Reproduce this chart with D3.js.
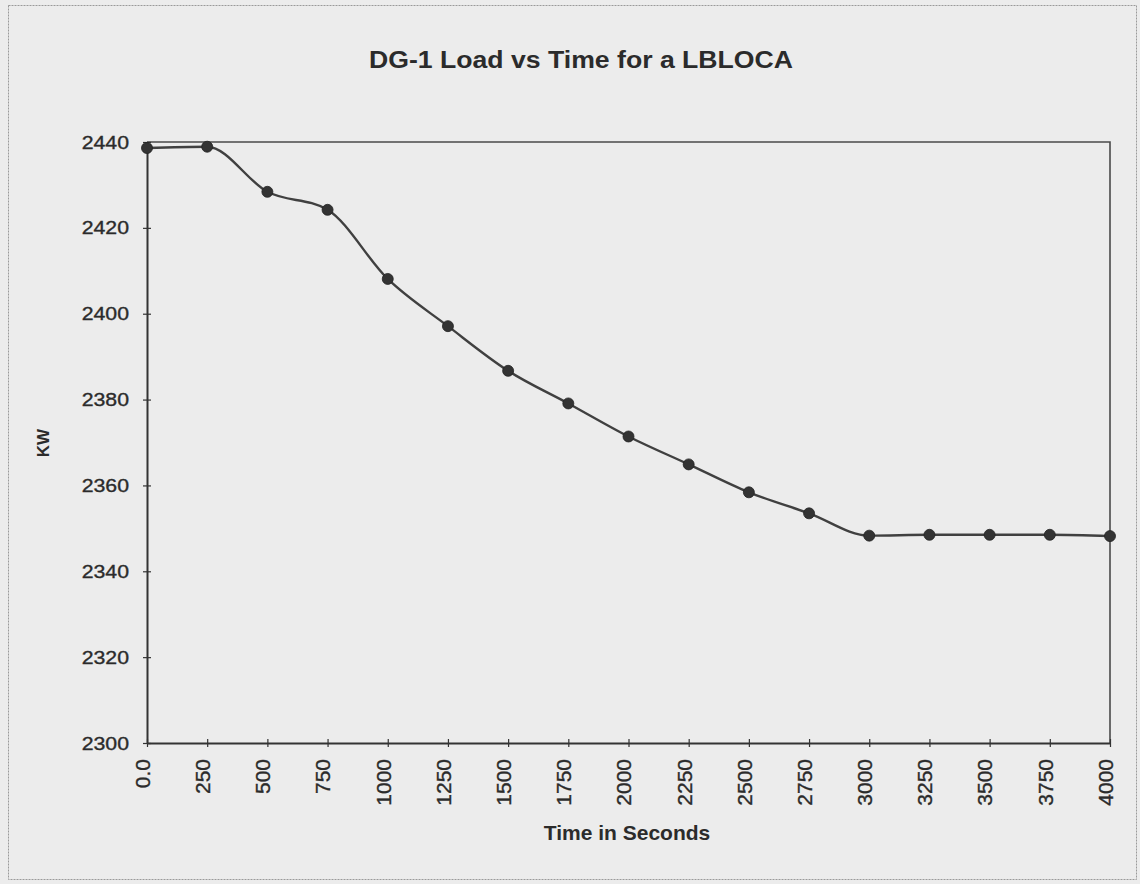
<!DOCTYPE html>
<html>
<head>
<meta charset="utf-8">
<script src="https://cdn.jsdelivr.net/npm/d3@7"></script>
<style>
  html, body { margin: 0; padding: 0; background: #ececec; }
  svg { display: block; }
  text { font-family: "Liberation Sans", Arial, Helvetica, sans-serif; fill: #2b2b2b; }
</style>
</head>
<body>
<script>
// Time (s) and diesel generator load (kW)
const times = [0, 250, 500, 750, 1000, 1250, 1500, 1750, 2000, 2250, 2500, 2750, 3000, 3250, 3500, 3750, 4000];
const loadKW = [2438.6, 2438.9, 2428.4, 2424.2, 2408.1, 2397.1, 2386.7, 2379.1, 2371.4, 2364.9, 2358.4, 2353.5, 2348.3, 2348.5, 2348.5, 2348.5, 2348.2];
const xTicks = [0, 250, 500, 750, 1000, 1250, 1500, 1750, 2000, 2250, 2500, 2750, 3000, 3250, 3500, 3750, 4000];
const xTickLabels = ["0.0", "250", "500", "750", "1000", "1250", "1500", "1750", "2000", "2250", "2500", "2750", "3000", "3250", "3500", "3750", "4000"];
const yTicks = [2300, 2320, 2340, 2360, 2380, 2400, 2420, 2440];

const titleText = "DG-1 Load vs Time for a LBLOCA";
const xTitle = "Time in Seconds";
const yTitle = "KW";

const W = 1140, H = 884;
const plot = { left: 147, right: 1110, top: 142, bottom: 743 };

const svg = d3.select("body").append("svg")
  .attr("width", W).attr("height", H);

svg.append("rect").attr("width", W).attr("height", H).attr("fill", "#ececec");

// thin dotted outer frame
svg.append("rect")
  .attr("x", 8.5).attr("y", 5.5).attr("width", 1128).attr("height", 874)
  .attr("fill", "none").attr("stroke", "#9a9a9a").attr("stroke-width", 1)
  .attr("stroke-dasharray", "2,1");

const x = d3.scaleLinear().domain([0, 4000]).range([plot.left, plot.right]);
const y = d3.scaleLinear().domain([2300, 2440]).range([plot.bottom, plot.top]);

// plot frame (top and right edges)
svg.append("path")
  .attr("d", `M${plot.left},${plot.top}H${plot.right}V${plot.bottom}`)
  .attr("fill", "none").attr("stroke", "#4a4a4a").attr("stroke-width", 1.6);

// y axis
const yAxis = d3.axisLeft(y).tickValues(yTicks).tickSizeInner(4).tickSizeOuter(0).tickPadding(14)
  .tickFormat(d3.format("d"));
const gy = svg.append("g").attr("transform", `translate(${plot.left},0)`).call(yAxis);
gy.select(".domain").attr("stroke", "#333").attr("stroke-width", 2);
gy.selectAll(".tick line").attr("stroke", "#333").attr("stroke-width", 1.2).attr("x1", 4).attr("x2", -4);
gy.selectAll(".tick text")
  .style("font-size", "19px").style("font-family", "'Liberation Sans', Arial, sans-serif")
  .attr("fill", "#2b2b2b").attr("stroke", "#2b2b2b").attr("stroke-width", 0.35)
  .each(function () {
    const len = this.getComputedTextLength();
    d3.select(this).attr("textLength", len * 1.12).attr("lengthAdjust", "spacingAndGlyphs");
  });

// x axis
const xAxis = d3.axisBottom(x).tickValues(xTicks).tickSizeInner(4).tickSizeOuter(0)
  .tickFormat((d, i) => xTickLabels[i]);
const gx = svg.append("g").attr("transform", `translate(0,${plot.bottom})`).call(xAxis);
gx.select(".domain").attr("stroke", "#333").attr("stroke-width", 2);
gx.selectAll(".tick line").attr("stroke", "#333").attr("stroke-width", 1.2).attr("y1", -4).attr("y2", 4);
gx.selectAll(".tick text")
  .style("font-size", "21px").style("font-family", "'Liberation Sans', Arial, sans-serif")
  .attr("fill", "#2b2b2b").attr("stroke", "#2b2b2b").attr("stroke-width", 0.35)
  .attr("text-anchor", "end")
  .attr("dy", "0.35em")
  .attr("transform", "translate(-5,16) rotate(-90)")
  .attr("x", 0).attr("y", 0);

// smoothed load curve
const pts = times.map((t, i) => [t, loadKW[i]]);
const line = d3.line().x(d => x(d[0])).y(d => y(d[1])).curve(d3.curveMonotoneX);
svg.append("path").datum(pts)
  .attr("d", line)
  .attr("fill", "none").attr("stroke", "#404040").attr("stroke-width", 2.4);

// markers
svg.append("g").selectAll("circle").data(pts).join("circle")
  .attr("cx", d => x(d[0])).attr("cy", d => y(d[1]))
  .attr("r", 5.5).attr("fill", "#333").attr("stroke", "#222").attr("stroke-width", 0.8);

// title
svg.append("text")
  .attr("x", 581).attr("y", 68)
  .attr("text-anchor", "middle")
  .attr("textLength", 424).attr("lengthAdjust", "spacingAndGlyphs")
  .style("font-size", "23px").style("font-weight", "bold")
  .text(titleText);

// axis titles
svg.append("text")
  .attr("x", 627).attr("y", 840)
  .attr("text-anchor", "middle")
  .style("font-size", "21px").style("font-weight", "bold")
  .text(xTitle);

svg.append("text")
  .attr("transform", "translate(49,443) rotate(-90)")
  .attr("text-anchor", "middle")
  .style("font-size", "17px").style("font-weight", "bold")
  .text(yTitle);
</script>
</body>
</html>
